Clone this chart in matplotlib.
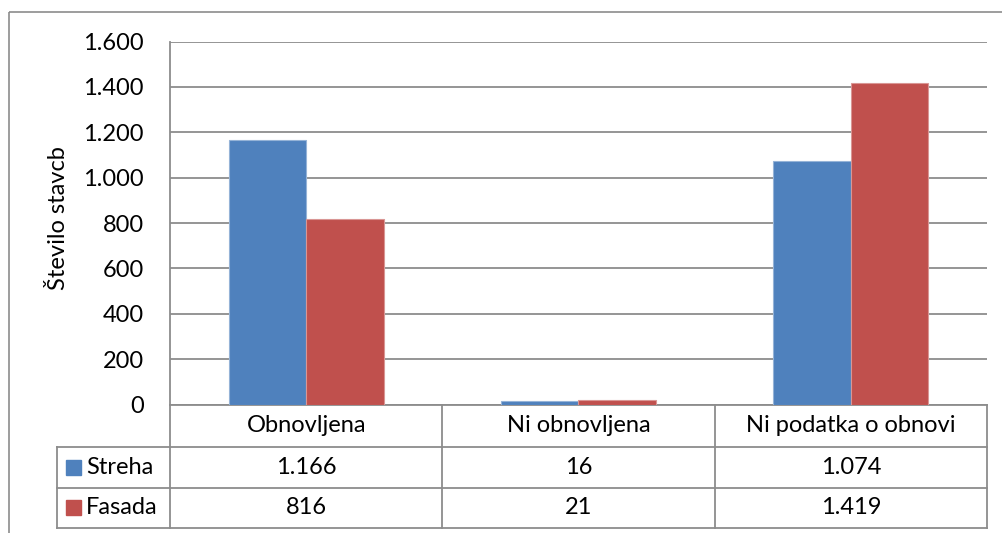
import numpy as np
import matplotlib
matplotlib.use("Agg")
from matplotlib import pyplot as plt
from matplotlib import transforms
from matplotlib.patches import Rectangle

# data
categories = ["Obnovljena", "Ni obnovljena", "Ni podatka o obnovi"]
series_names = ["Streha", "Fasada"]
streha = [1166, 16, 1074]
fasada = [816, 21, 1419]
table_labels = [["1.166", "16", "1.074"], ["816", "21", "1.419"]]
yticks = [0, 200, 400, 600, 800, 1000, 1200, 1400, 1600]
ytick_labels = ["0", "200", "400", "600", "800", "1.000", "1.200", "1.400", "1.600"]
colors = ["#4F81BD", "#C0504D"]
edges = ["#95B3D7", "#D99694"]

plt.rcParams['font.family'] = ['Lato', 'DejaVu Sans']
fs = 17
grid_c = "#8C8C8C"

W, H = 1003, 533
fig = plt.figure(figsize=(W / 100, H / 100), dpi=100)

# overlay in pixel coordinates for frame and data table
ov = fig.add_axes([0, 0, 1, 1], zorder=0)
ov.set_xlim(0, W)
ov.set_ylim(H, 0)
ov.axis("off")

left, right, top, bottom = 170, 987, 41.5, 404.5
ax = fig.add_axes([left / W, 1 - bottom / H, (right - left) / W, (bottom - top) / H], zorder=1)
ax.patch.set_alpha(0)

x = np.arange(len(categories))
w = 0.285
for i, (vals, name) in enumerate(zip([streha, fasada], series_names)):
    ax.bar(x + (i - 0.5) * w, vals, width=w, color=colors[i], edgecolor=edges[i],
           linewidth=0.8, label=name, zorder=3)

ax.set_xlim(-0.5, len(categories) - 0.5)
ax.set_ylim(0, 1600)
ax.set_yticks(yticks)
ax.set_yticklabels(ytick_labels, fontsize=fs)
ax.tick_params(axis="y", length=0, pad=19)
ax.set_xticks([])
ax.grid(axis="y", color=grid_c, linewidth=1.3, zorder=0)
for s in ["top", "right", "bottom"]:
    ax.spines[s].set_visible(False)
ax.spines["left"].set_color(grid_c)
ax.spines["left"].set_linewidth(1.3)

# y axis title
ov.text(59, 218, "Število stavcb", rotation=90, ha="center", va="center", fontsize=fs)

# outer chart frame
ov.add_patch(Rectangle((9, 12), 1010, 540, fill=False, edgecolor=grid_c, linewidth=1.2))

# data table
rows = [404.5, 446.5, 487.5, 528]
lw = 1.3
ov.plot([left, right], [rows[0], rows[0]], color=grid_c, lw=lw)
for r in rows[1:]:
    ov.plot([57, right], [r, r], color=grid_c, lw=lw)
ov.plot([57, 57], [rows[1], rows[3]], color=grid_c, lw=lw)
col_w = (right - left) / len(categories)
for k in range(len(categories) + 1):
    cx = left + k * col_w
    ov.plot([cx, cx], [rows[0], rows[3]], color=grid_c, lw=lw)

tr = transforms.blended_transform_factory(ax.transData, ov.transData)
for i, cat in enumerate(categories):
    ov.text(i, (rows[0] + rows[1]) / 2, cat, transform=tr, ha="center", va="center", fontsize=fs)
    for j in range(len(series_names)):
        ov.text(i, (rows[j + 1] + rows[j + 2]) / 2, table_labels[j][i], transform=tr,
                ha="center", va="center", fontsize=fs)

for j, name in enumerate(series_names):
    yc = (rows[j + 1] + rows[j + 2]) / 2
    ov.add_patch(Rectangle((66, yc - 7.5), 15, 15, color=colors[j]))
    ov.text(86, yc, name, ha="left", va="center", fontsize=fs)

fig.savefig("out.png", dpi=100)
